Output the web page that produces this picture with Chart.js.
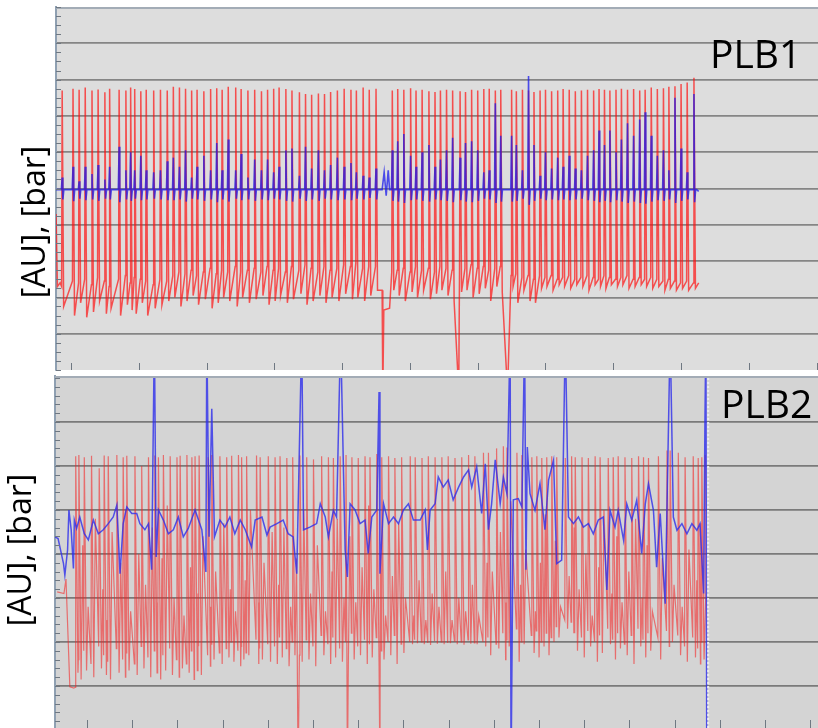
<!DOCTYPE html>
<html>
<head>
<meta charset="utf-8">
<script src="https://cdn.jsdelivr.net/npm/chart.js@4/dist/chart.umd.min.js"></script>
<style>
  html, body { margin: 0; padding: 0; background: #ffffff; }
  body { width: 818px; height: 728px; position: relative; overflow: hidden; }
  canvas { position: absolute; left: 0; display: block; }
  #c1 { top: 0; }
  #c2 { top: 372px; }
</style>
</head>
<body>
<canvas id="c1" width="818" height="372"></canvas>
<canvas id="c2" width="818" height="356"></canvas>
<script>
// ---------------- PLB1 : pulse train (red) and second channel (blue) ----------------
// pulse times [s]
const PLB1_T = [
  -1.3, 0.3, 1.2, 2.1, 3.1, 4.0, 5.0, 5.7, 7.1, 8.1, 8.8, 9.4, 10.3, 11.1, 12.2, 13.2, 14.2,
  15.1, 16.0, 16.9, 17.8, 18.6, 19.6, 20.6, 21.5, 22.3, 23.2, 24.3, 25.1, 26.1, 27.1, 28.1, 29.0, 29.9,
  30.7, 31.7, 32.6, 33.7, 34.6, 35.5, 36.5, 37.4, 38.3, 39.3, 40.3, 41.3, 42.1, 43.1, 44.0, 45.0,
  47.4, 48.2, 49.1, 50.1, 50.9, 51.8, 52.8, 53.7, 54.5, 55.4, 56.3, 57.4, 58.2, 59.1, 60.0, 60.9, 61.7, 62.6, 63.4,
  65.0, 65.7, 66.6, 67.5, 68.3, 69.2, 70.0, 70.9, 71.8, 72.6, 73.5, 74.4, 75.3, 76.2, 77.1, 77.9,
  78.7, 79.5, 80.4, 81.2, 82.1, 83.0, 83.9, 84.7, 85.6, 86.5, 87.4, 88.2, 89.1, 90.0, 90.9, 91.9
];
// red: level just before each stroke, pulse top, level right after
const PLB1_RED_PRE = [
  2.3, 2.45, 2.4, 2.5, 2.35, 2.55, 2.45, 2.3, 2.5, 2.6, 2.4, 2.55, 2.5, 2.45, 2.35, 2.5, 2.45,
  2.6, 2.7, 2.65, 2.75, 2.6, 2.7, 2.8, 2.65, 2.75, 2.7, 2.85, 2.7, 2.75, 2.8, 2.7, 2.85, 2.75,
  2.8, 2.7, 2.85, 2.75, 2.9, 2.8, 2.7, 2.85, 2.75, 2.8, 2.9, 2.85, 2.95, 2.8, 2.85, 2.85,
  2.7, 2.75, 2.8, 2.7, 2.85, 2.75, 2.8, 2.7, 2.85, 2.8, 2.75, 2.85, 2.8, 2.9, 2.8, 2.85, 2.75, 2.8, 2.85,
  2.6, 2.65, 2.55, 2.6, 2.5, 2.6, 2.55, 2.6, 2.5, 2.55, 2.6, 2.5, 2.55, 2.6, 2.55, 2.5,
  2.6, 2.55, 2.5, 2.55, 2.6, 2.5, 2.55, 2.5, 2.55, 2.5, 2.45, 2.5, 2.45, 2.4, 2.45, 2.4
];
const PLB1_RED_PEAK = [
  7.7, 7.75, 7.72, 7.78, 7.7, 7.73, 7.65, 7.75, 7.72, 7.7, 7.78, 7.74, 7.68, 7.72, 7.7, 7.72, 7.7,
  7.8, 7.78, 7.75, 7.7, 7.72, 7.68, 7.74, 7.76, 7.72, 7.8, 7.78, 7.74, 7.7, 7.72, 7.68, 7.72, 7.75,
  7.78, 7.74, 7.7, 7.65, 7.6, 7.58, 7.62, 7.6, 7.66, 7.7, 7.75, 7.72, 7.7, 7.78, 7.72, 7.75,
  7.7, 7.74, 7.72, 7.76, 7.7, 7.72, 7.68, 7.66, 7.7, 7.72, 7.7, 7.68, 7.66, 7.72, 7.7, 7.74, 7.75, 7.7, 7.72,
  7.72, 7.68, 7.72, 7.7, 7.66, 7.7, 7.72, 7.68, 7.7, 7.74, 7.72, 7.68, 7.7, 7.72, 7.7, 7.74,
  7.72, 7.7, 7.72, 7.75, 7.72, 7.74, 7.7, 7.72, 7.78, 7.74, 7.76, 7.8, 7.82, 7.88, 7.92, 8.05
];
const PLB1_RED_POST = [
  1.75, 1.5, 1.85, 1.45, 1.6, 1.9, 1.55, 1.7, 1.5, 1.8, 1.65, 1.55, 1.85, 1.5, 1.7, 1.8, 1.9,
  2.0, 1.75, 1.9, 2.05, 1.8, 1.95, 1.7, 1.85, 2.0, 1.9, 1.75, 2.0, 1.85, 1.95, 2.05, 1.8, 1.9,
  2.05, 1.85, 1.95, 2.1, 1.8, 1.9, 2.05, 1.85, 2.0, 1.9, 2.1, 1.95, 2.0, 1.9, 2.05, 2.2,
  2.2, 2.05, 1.9, 2.15, 2.0, 2.2, 1.95, 2.1, 2.2, 2.05, 1.9, 2.15, 2.2, 2.0, 2.1, 2.25, 1.9, 2.3, 2.15,
  2.3, 1.85, 2.2, 1.9, 1.85, 2.25, 2.3, 2.2, 2.35, 2.3, 2.25, 2.35, 2.3, 2.2, 2.35, 2.3,
  2.25, 2.35, 2.3, 2.35, 2.25, 2.3, 2.35, 2.3, 2.25, 2.3, 2.2, 2.25, 2.2, 2.25, 2.2, 2.25
];
// red: isolated samples outside the pulses (dropouts below the axis)
const PLB1_RED_EXTRA_T = [45.9, 46.0, 46.15, 47.0, 57.2, 64.4];
const PLB1_RED_EXTRA_V = [2.2, -0.6, 1.65, 1.7, -0.6, -0.6];
const PLB1_RED_LEAD = [[-2.2, 4.3], [-2.0, 2.3], [-1.6, 2.4]];
const PLB1_RED_TAIL = [[92.6, 2.4]];
// blue: resting level, spike tops and undershoots
const PLB1_BLUE_LEVEL = 4.97;
const PLB1_BLUE_PEAK = [
  5.3, 5.6, 5.2, 5.6, 5.4, 5.65, 5.25, 5.6, 6.15, 5.5, 6.0, 5.5, 5.9, 5.5, 5.45, 5.5, 5.75,
  5.85, 5.6, 6.05, 5.3, 5.6, 5.9, 5.5, 6.25, 5.5, 6.35, 5.5, 5.95, 5.3, 5.8, 5.5, 5.8, 5.45,
  5.6, 6.05, 6.1, 5.35, 6.15, 5.55, 6.05, 5.5, 5.65, 5.85, 5.6, 5.7, 5.45, 5.35, 5.3, 5.55,
  6.05, 6.3, 6.5, 5.9, 5.6, 6.0, 6.2, 5.6, 5.8, 6.05, 6.4, 5.85, 6.25, 6.3, 6.05, 5.45, 5.5, 7.35, 6.45,
  6.45, 6.2, 5.5, 8.1, 6.2, 5.35, 6.0, 5.55, 5.85, 5.6, 5.9, 5.55, 5.5, 5.9, 6.05, 6.6,
  6.2, 6.6, 6.0, 6.35, 6.8, 6.45, 6.9, 7.1, 6.45, 5.9, 6.05, 5.5, 7.5, 6.1, 5.45, 7.6
];
const PLB1_BLUE_DIP = [
  4.7, 4.65, 4.72, 4.68, 4.7, 4.66, 4.72, 4.7, 4.62, 4.7, 4.66, 4.72, 4.68, 4.7, 4.72, 4.7, 4.68,
  4.68, 4.7, 4.64, 4.72, 4.7, 4.66, 4.7, 4.62, 4.7, 4.64, 4.72, 4.68, 4.7, 4.66, 4.7, 4.68, 4.72,
  4.7, 4.66, 4.64, 4.72, 4.66, 4.7, 4.66, 4.72, 4.7, 4.68, 4.7, 4.68, 4.72, 4.7, 4.74, 4.7,
  4.66, 4.64, 4.6, 4.68, 4.7, 4.66, 4.64, 4.7, 4.68, 4.66, 4.62, 4.68, 4.64, 4.62, 4.66, 4.72, 4.7, 4.6, 4.64,
  4.64, 4.66, 4.72, 4.55, 4.66, 4.72, 4.68, 4.7, 4.68, 4.7, 4.68, 4.7, 4.72, 4.68, 4.66, 4.62,
  4.66, 4.62, 4.68, 4.64, 4.6, 4.64, 4.6, 4.58, 4.64, 4.68, 4.66, 4.7, 4.6, 4.66, 4.7, 4.62
];
const PLB1_BLUE_EXTRA_T = [45.9, 46.2, 46.5, 46.8, 47.0];
const PLB1_BLUE_EXTRA_V = [4.97, 5.45, 4.8, 5.5, 4.97];
const PLB1_BLUE_LEAD = [[-2.2, 4.97]];
const PLB1_BLUE_TAIL = [[92.3, 4.97], [92.6, 4.92]];
const PLB1_X_TICKS = [0, 10, 20, 30, 40, 50, 60, 70, 80, 90, 100, 110];
const PLB1_Y_TICKS = [1, 2, 3, 4, 5, 6, 7, 8, 9];

// ---------------- PLB2 ----------------
const PLB2_T = [
  -2.5, -1.8, -0.6, 1.0, 2.7, 3.8, 4.7, 6.6, 8.0, 8.8, 10.6, 12.1, 13.6, 15.0, 15.8, 16.9, 18.4,
  19.9, 20.6, 22.1, 23.2, 23.9, 24.8, 26.8, 27.6, 29.4, 30.9, 32.0, 33.5, 34.2, 35.3, 37.5, 38.3, 40.1,
  41.6, 42.7, 44.2, 45.5, 47.1, 48.6, 50.1, 51.9, 53.4, 54.5, 56.0, 57.3, 58.6, 60.0, 61.5, 62.6, 64.1,
  65.2, 66.7, 68.1, 69.6, 71.5, 72.6, 74.1, 75.5, 77.0, 78.5, 79.9, 81.4, 82.9, 84.4, 85.8, 87.7,
  88.8, 90.6, 92.1, 92.9, 95.1, 96.2, 98.4, 99.5, 100.6, 101.7, 102.8, 103.9, 105.8, 107.2, 108.0, 109.5, 110.9, 112.4,
  113.5, 115.3, 116.4, 117.5, 119.0, 120.5, 122.0, 123.1, 124.2, 126.4, 128.3, 129.0, 130.8, 132.3, 134.1, 135.2, 136.0
];
const PLB2_RED_PRE = [
  0.97, 1.6, 1.8, 1.5, 1.9, 1.7, 1.55, 1.85, 1.6, 1.75, 1.5, 1.9, 1.65, 1.8, 1.55, 1.7, 1.85,
  1.6, 1.75, 1.5, 1.8, 1.65, 1.9, 1.7, 1.95, 1.75, 1.85, 2.0, 1.8, 1.9, 1.75, 2.05, 1.85, 1.95,
  1.9, 2.1, 1.85, 2.0, 1.7, 2.05, 1.9, 2.15, 1.95, 2.1, 1.85, 2.0, 2.2, 1.9, 2.05, 1.95, 2.1,
  1.8, 2.0, 2.15, 1.95, 2.0, 2.05, 2.0, 1.98, 2.02, 2.0, 1.98, 2.02, 2.0, 2.05, 1.98, 2.0,
  2.1, 1.95, 2.2, 2.05, 2.3, 2.0, 2.15, 2.25, 2.0, 2.2, 2.1, 2.35, 2.5, 2.45, 2.2, 2.1, 2.25, 2.0,
  2.15, 2.3, 2.05, 2.2, 1.95, 2.15, 2.3, 2.05, 2.2, 2.1, 2.25, 2.0, 2.15, 1.9, 2.1, 1.85, 2.0
];
const PLB2_RED_PEAK = [
  6.22, 6.25, 6.2, 6.23, 5.95, 6.24, 6.22, 6.25, 6.2, 6.23, 6.22, 6.0, 6.2, 6.24, 6.2, 6.25, 6.22,
  6.2, 6.23, 6.25, 6.2, 6.22, 6.24, 6.2, 6.25, 6.22, 6.2, 6.23, 6.25, 6.2, 6.22, 6.24, 6.2, 6.22,
  6.2, 6.22, 6.18, 6.2, 6.24, 6.2, 6.15, 6.22, 6.2, 6.18, 6.22, 6.25, 6.2, 6.18, 6.22, 6.2, 6.27,
  6.2, 6.22, 6.18, 6.2, 6.22, 6.2, 6.18, 6.22, 6.2, 6.2, 6.22, 6.18, 6.2, 6.25, 6.22, 6.3,
  6.3, 6.4, 6.45, 6.42, 6.3, 6.25, 6.2, 6.22, 6.18, 6.2, 6.22, 6.2, 6.18, 6.22, 6.2, 6.2, 6.18, 6.22,
  6.2, 6.18, 6.2, 6.22, 6.2, 6.18, 6.22, 6.2, 6.18, 6.22, 6.35, 6.35, 6.3, 6.2, 6.22, 6.18, 6.2
];
const PLB2_RED_LOW = [
  1.3, 1.15, 1.35, 1.2, 1.4, 1.25, 1.15, 1.3, 1.2, 1.35, 1.25, 1.4, 1.2, 1.3, 1.15, 1.35, 1.25,
  1.2, 1.4, 1.3, 1.15, 1.35, 1.25, 1.45, 1.6, 1.5, 1.65, 1.55, 1.45, 1.6, 1.7, 1.5, 1.6, 1.55,
  1.5, 1.65, 1.45, 1.7, 1.55, 1.6, 1.45, 1.7, 1.5, 1.65, 1.55, 1.45, 1.6, 1.7, 1.5, 1.65, 1.55,
  1.6, 1.7, 1.5, 1.75, 1.95, 1.97, 1.95, 1.93, 1.96, 1.95, 1.97, 1.95, 1.94, 1.96, 1.95, 1.9,
  1.7, 1.85, 1.6, 1.9, 1.55, 1.95, 1.75, 1.65, 1.9, 1.7, 2.0, 2.1, 2.3, 2.2, 1.8, 1.65, 1.9, 1.55,
  1.75, 1.95, 1.6, 1.85, 1.7, 1.5, 1.9, 1.65, 1.8, 1.6, 1.9, 2.0, 1.7, 1.55, 1.65, 1.5, 1.6
];
// red: secondary bounce after each trough
const PLB2_RED_BOUNCE = [
  3.5, 4.2, 2.8, 4.8, 3.2, 2.5, 4.5, 3.8, 5.0, 2.7, 4.0, 3.3, 4.6, 2.9, 3.9, 5.1, 3.0,
  4.3, 2.6, 3.7, 4.9, 3.1, 4.4, 2.8, 3.6, 4.7, 3.2, 2.7, 4.1, 3.4, 5.0, 2.9, 3.8, 4.5,
  3.3, 4.6, 2.8, 3.9, 5.0, 3.1, 4.2, 2.7, 3.6, 4.8, 3.0, 4.4, 2.9, 3.7, 5.1, 3.2, 4.0,
  2.6, 3.5, 4.7, 3.0, 2.6, 3.4, 2.5, 3.1, 2.8, 3.6, 2.5, 3.0, 2.7, 3.3, 2.6, 3.8,
  3.6, 4.5, 2.9, 5.2, 3.3, 4.1, 2.7, 3.8, 4.9, 3.0, 4.3, 2.8, 3.5, 4.6, 3.2, 4.0, 2.6, 3.7,
  5.0, 3.1, 4.4, 2.9, 3.6, 4.8, 3.0, 4.2, 2.7, 3.9, 4.6, 3.3, 2.8, 4.1, 3.4, 4.7, 3.0
];
const PLB2_RED_EXTRA_T = [46.7, 57.6, 64.8];
const PLB2_RED_EXTRA_V = [-1, -1, -1];
const PLB2_RED_LEAD = [[-6.6, 3.14], [-5.1, 3.1], [-4.65, 3.43], [-3.8, 0.98], [-2.9, 0.95]];
const PLB2_RED_TAIL = [[136.75, 6.25]];
// blue trace samples
const PLB2_BLUE_T = [
  -7.1, -6.4, -5.2, -4.9, -4.3, -4.0, -3.5, -3.0, -2.8, -2.3,
  -1.6, -0.6, 0.3, 1.4, 2.5, 3.6, 4.7, 5.8, 6.6, 7.3,
  8.0, 8.8, 9.9, 11.0, 11.7, 12.8, 13.6, 14.3, 14.9, 15.3,
  15.8, 16.9, 18.0, 19.1, 20.2, 21.3, 22.4, 23.9, 25.4, 26.3,
  26.5, 27.0, 27.6, 28.2, 29.4, 30.5, 31.6, 32.7, 33.9, 35.0,
  36.4, 37.2, 38.7, 39.8, 40.5, 42.0, 43.4, 44.5, 45.6, 46.4,
  47.5, 47.9, 49.3, 50.8, 51.6, 52.7, 53.4, 54.5, 55.2, 56.1,
  57.1, 57.6, 58.2, 59.3, 60.4, 61.5, 62.2, 63.0, 64.1, 64.6,
  64.8, 65.6, 66.7, 67.8, 68.9, 70.0, 71.1, 72.2, 73.7, 74.8,
  75.3, 75.9, 77.0, 77.7, 78.8, 79.9, 81.0, 82.2, 83.3, 84.4,
  85.1, 86.2, 87.3, 88.1, 88.8, 89.5, 90.3, 91.4, 92.1, 92.9,
  93.6, 93.8, 94.3, 95.4, 96.2, 96.8, 97.1, 97.4, 98.0, 99.1,
  100.2, 101.3, 102.1, 103.2, 103.9, 105.0, 105.8, 106.5, 107.6, 108.7,
  109.8, 110.9, 112.0, 113.1, 114.2, 115.0, 115.7, 116.8, 117.5, 118.7,
  119.4, 120.5, 121.6, 122.7, 123.5, 124.2, 125.3, 126.0, 126.8, 127.9,
  129.0, 129.7, 130.5, 131.6, 132.7, 133.8, 134.9, 135.6, 136.4, 136.7,
  136.9, 137.1
];
const PLB2_BLUE_V = [
  4.39, 4.35, 3.78, 3.52, 4.09, 5.0, 4.55, 3.67, 4.77, 4.58,
  4.84, 4.46, 4.32, 4.77, 4.46, 4.55, 4.69, 4.84, 5.11, 3.55,
  4.69, 5.07, 4.92, 4.92, 4.69, 4.55, 4.69, 3.64, 9, 3.93,
  5.0, 4.77, 4.46, 4.55, 4.84, 4.39, 4.58, 5.0, 4.55, 3.59,
  9, 4.39, 7.3, 4.39, 4.77, 4.61, 4.84, 4.46, 4.77, 4.55,
  4.16, 4.77, 4.84, 4.43, 4.61, 4.69, 4.77, 4.46, 4.39, 3.55,
  9, 4.55, 4.61, 4.69, 5.14, 4.84, 4.39, 4.99, 4.84, 9,
  4.09, 3.48, 5.14, 5.0, 4.69, 4.77, 4.01, 4.84, 5.0, 7.68,
  3.55, 5.14, 4.69, 4.84, 4.69, 5.0, 5.14, 4.77, 4.77, 5.0,
  4.09, 5.0, 5.14, 5.75, 5.52, 5.68, 5.23, 5.52, 5.75, 5.91,
  5.52, 5.98, 4.92, 6.05, 4.55, 5.14, 6.14, 5.14, 5.75, 5.37,
  9, -1, 5.23, 5.26, 5.07, 9, 3.64, 6.43, 5.37, 4.99,
  5.6, 4.55, 5.68, 6.13, 3.78, 3.86, 9, 4.84, 4.69, 4.84,
  4.61, 4.69, 4.46, 4.77, 4.84, 3.18, 4.99, 4.61, 4.99, 4.31,
  5.14, 4.77, 5.22, 4.01, 5.14, 5.6, 4.99, 3.7, 4.92, 2.87,
  9, 4.84, 4.54, 4.69, 4.46, 4.69, 4.54, 4.69, 3.1, 7.11,
  9, -1
];
const PLB2_END_MARK = 137.4;
const PLB2_X_TICKS = [0, 10, 20, 30, 40, 50, 60, 70, 80, 90, 100, 110, 120, 130, 140, 150, 160];
const PLB2_Y_TICKS = [1, 2, 3, 4, 5, 6, 7];

// ---------------- series assembly ----------------
const toPts = pairs => pairs.map(([x, y]) => ({ x, y }));

// pre -> top -> post for every pulse, optionally followed by a bounce before the next pulse
function pulseSeries(s) {
  const body = [];
  s.t.forEach((t, i) => {
    body.push({ x: t - s.dPre, y: s.pre[i] }, { x: t, y: s.peak[i] }, { x: t + s.dPost, y: s.post[i] });
    if (s.bounce) {
      const next = i + 1 < s.t.length ? s.t[i + 1] : t + 1.4;
      const at = Math.min(t + 0.85, t + (next - t) * 0.72);
      if (at > t + s.dPost + 0.05) body.push({ x: at, y: s.bounce[i] });
    }
  });
  s.extraT.forEach((t, i) => body.push({ x: t, y: s.extraV[i] }));
  body.sort((a, b) => a.x - b.x);
  return toPts(s.lead).concat(body, toPts(s.tail));
}

function spikeSeries(times, level, peak, dip, extraT, extraV, lead, tail) {
  const body = [];
  times.forEach((t, i) => {
    body.push({ x: t - 0.12, y: level }, { x: t, y: peak[i] },
              { x: t + 0.1, y: dip[i] }, { x: t + 0.25, y: level });
  });
  extraT.forEach((t, i) => body.push({ x: t, y: extraV[i] }));
  body.sort((a, b) => a.x - b.x);
  return toPts(lead).concat(body, toPts(tail));
}

const plb1Red = pulseSeries({
  t: PLB1_T, pre: PLB1_RED_PRE, peak: PLB1_RED_PEAK, post: PLB1_RED_POST, dPre: 0.08, dPost: 0.22,
  extraT: PLB1_RED_EXTRA_T, extraV: PLB1_RED_EXTRA_V, lead: PLB1_RED_LEAD, tail: PLB1_RED_TAIL
});
const plb1Blue = spikeSeries(PLB1_T, PLB1_BLUE_LEVEL, PLB1_BLUE_PEAK, PLB1_BLUE_DIP,
  PLB1_BLUE_EXTRA_T, PLB1_BLUE_EXTRA_V, PLB1_BLUE_LEAD, PLB1_BLUE_TAIL);
const plb2Red = pulseSeries({
  t: PLB2_T, pre: PLB2_RED_PRE, peak: PLB2_RED_PEAK, post: PLB2_RED_LOW, bounce: PLB2_RED_BOUNCE,
  dPre: 0.12, dPost: 0.5,
  extraT: PLB2_RED_EXTRA_T, extraV: PLB2_RED_EXTRA_V, lead: PLB2_RED_LEAD, tail: PLB2_RED_TAIL
});
const plb2Blue = PLB2_BLUE_T.map((t, i) => ({ x: t, y: PLB2_BLUE_V[i] }));

// ---------------- panel decoration ----------------
const panelFrame = {
  id: 'panelFrame',
  beforeDraw(chart, args, o) {
    const { ctx, chartArea: a } = chart;
    ctx.save();
    ctx.fillStyle = o.background;
    ctx.fillRect(a.left, a.top, a.right - a.left, a.bottom - a.top);
    ctx.restore();
  },
  afterDraw(chart, args, o) {
    const { ctx, chartArea: a, scales } = chart;
    ctx.save();
    // top frame line
    ctx.strokeStyle = o.frameColor;
    ctx.lineWidth = 2;
    ctx.beginPath();
    ctx.moveTo(a.left, a.top + 1);
    ctx.lineTo(a.right, a.top + 1);
    ctx.stroke();
    // minor ticks along the value axis, pointing into the plot
    const y = scales.y;
    ctx.strokeStyle = o.tickColor;
    ctx.lineWidth = 1;
    ctx.beginPath();
    for (let k = Math.ceil(y.min / o.minorStep); k * o.minorStep <= y.max; k++) {
      const py = Math.round(y.getPixelForValue(k * o.minorStep)) + 0.5;
      ctx.moveTo(a.left, py);
      ctx.lineTo(a.left + 5, py);
    }
    ctx.stroke();
    // time ticks rising from the bottom edge
    const x = scales.x;
    ctx.beginPath();
    o.xTicks.forEach(v => {
      const px = Math.round(x.getPixelForValue(v)) + 0.5;
      if (px > a.left && px < a.right) {
        ctx.moveTo(px, a.bottom);
        ctx.lineTo(px, a.bottom - o.xTickLen);
      }
    });
    ctx.stroke();
    // end-of-record marker
    if (o.endMark != null) {
      const px = x.getPixelForValue(o.endMark);
      ctx.strokeStyle = 'rgba(236,236,240,0.95)';
      ctx.lineWidth = 2;
      ctx.setLineDash([2, 2]);
      ctx.beginPath();
      ctx.moveTo(px, a.top + 2);
      ctx.lineTo(px, a.bottom);
      ctx.stroke();
      ctx.setLineDash([]);
    }
    // panel name
    ctx.fillStyle = '#000000';
    ctx.font = '39px "Open Sans"';
    ctx.textAlign = 'left';
    ctx.textBaseline = 'alphabetic';
    ctx.fillText(o.name, o.nameX, o.nameY);
    // value-axis title
    ctx.font = '32px "Open Sans"';
    ctx.textAlign = 'center';
    ctx.translate(o.titleX, o.titleY);
    ctx.rotate(-Math.PI / 2);
    ctx.fillText(o.title, 0, 0);
    ctx.restore();
  }
};

function panelOptions(cfg) {
  return {
    responsive: false,
    animation: false,
    events: [],
    devicePixelRatio: 1,
    layout: { padding: cfg.padding },
    plugins: {
      legend: { display: false },
      tooltip: { enabled: false },
      panelFrame: cfg.frame
    },
    scales: {
      x: {
        type: 'linear',
        min: cfg.xMin,
        max: cfg.xMax,
        display: false
      },
      y: {
        type: 'linear',
        min: cfg.yMin,
        max: cfg.yMax,
        afterBuildTicks: s => { s.ticks = cfg.yTicks.map(v => ({ value: v })); },
        ticks: { display: false },
        grid: { color: cfg.gridColor, lineWidth: 1.7, drawTicks: false },
        border: { display: true, color: '#8fa0b2', width: 2 }
      }
    }
  };
}

new Chart(document.getElementById('c1'), {
  type: 'line',
  data: {
    datasets: [
      { label: 'PLB1 channel 2', data: plb1Blue, borderColor: 'rgba(25,25,235,0.75)', borderWidth: 1.6,
        pointRadius: 0, tension: 0, fill: false },
      { label: 'PLB1 channel 1', data: plb1Red, borderColor: 'rgba(255,10,10,0.68)', borderWidth: 1.5,
        pointRadius: 0, tension: 0, fill: false }
    ]
  },
  options: panelOptions({
    padding: { left: 56, right: 0, top: 7, bottom: 2 },
    xMin: -2.21, xMax: 110.2,
    yMin: 0, yMax: 10,
    yTicks: PLB1_Y_TICKS,
    gridColor: '#858585',
    frame: {
      background: '#dddddd', frameColor: '#a3acb6', tickColor: '#6f7882',
      minorStep: 0.25, xTicks: PLB1_X_TICKS, xTickLen: 7, endMark: null,
      name: 'PLB1', nameX: 710, nameY: 68,
      title: '[AU], [bar]', titleX: 45, titleY: 222
    }
  }),
  plugins: [panelFrame]
});

new Chart(document.getElementById('c2'), {
  type: 'line',
  data: {
    datasets: [
      { label: 'PLB2 channel 2', data: plb2Blue, borderColor: 'rgba(45,45,235,0.8)', borderWidth: 1.5,
        pointRadius: 0, tension: 0, fill: false },
      { label: 'PLB2 channel 1', data: plb2Red, borderColor: 'rgba(245,35,35,0.58)', borderWidth: 1.2,
        pointRadius: 0, tension: 0, fill: false }
    ]
  },
  options: panelOptions({
    padding: { left: 55, right: 0, top: 4, bottom: 0 },
    xMin: -7.08, xMax: 161.7,
    yMin: 0.045, yMax: 8.045,
    yTicks: PLB2_Y_TICKS,
    gridColor: '#7a7a7a',
    frame: {
      background: '#d4d4d4', frameColor: '#a3acb6', tickColor: '#6f7882',
      minorStep: 0.2, xTicks: PLB2_X_TICKS, xTickLen: 8, endMark: PLB2_END_MARK,
      name: 'PLB2', nameX: 721, nameY: 46,
      title: '[AU], [bar]', titleX: 31, titleY: 178
    }
  }),
  plugins: [panelFrame]
});
</script>
</body>
</html>
